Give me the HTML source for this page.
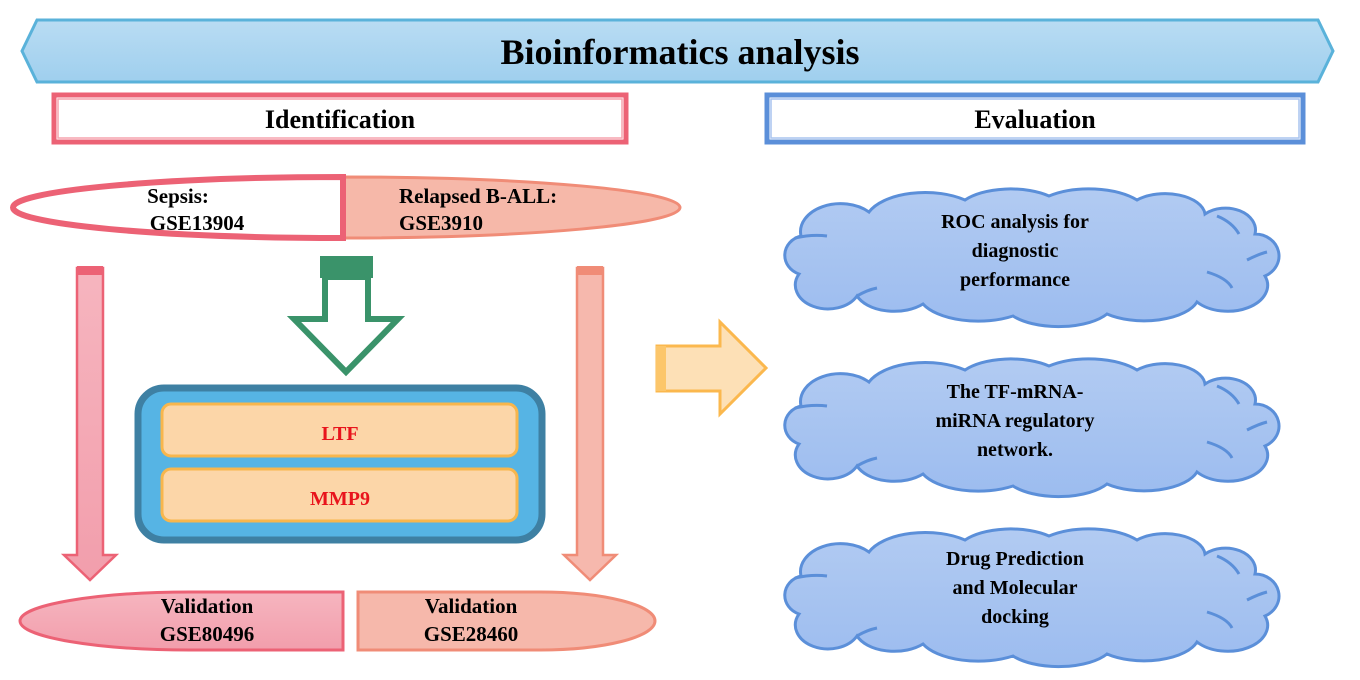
<!DOCTYPE html>
<html><head><meta charset="utf-8"><style>
html,body{margin:0;padding:0;background:#fff;width:1360px;height:680px;overflow:hidden}
svg{display:block}
text{font-family:"Liberation Serif",serif;font-weight:bold;fill:#000}
</style></head><body>
<svg width="1360" height="680" viewBox="0 0 1360 680" xmlns="http://www.w3.org/2000/svg">
<defs>
<linearGradient id="ban" x1="0" y1="0" x2="0" y2="1"><stop offset="0" stop-color="#b9dcf3"/><stop offset="1" stop-color="#9fcfee"/></linearGradient>
<linearGradient id="cl" x1="0" y1="0" x2="0" y2="1"><stop offset="0" stop-color="#b2cbf2"/><stop offset="1" stop-color="#9cbcef"/></linearGradient>
<linearGradient id="pk" x1="0" y1="0" x2="0" y2="1"><stop offset="0" stop-color="#f6b5bf"/><stop offset="1" stop-color="#f29eac"/></linearGradient>
<g id="cloud">
<path d="M12,82 A22,20 0 0 1 14,44 A40,28 0 0 1 82,20 A60,30 0 0 1 178,8 A55,25 0 0 1 262,4 A60,28 0 0 1 350,8 A40,22 0 0 1 418,22 A30,22 0 0 1 468,42 A24,22 0 0 1 478,84 A40,26 0 0 1 410,110 A55,26 0 0 1 320,122 A55,24 0 0 1 226,124 A60,28 0 0 1 136,112 A40,24 0 0 1 70,104 A30,22 0 0 1 12,82 Z" fill="url(#cl)" stroke="#5b8fd9" stroke-width="3"/>
<path d="M8,46 Q25,42 40,44 M430,24 Q445,30 452,42 M460,68 Q472,62 480,60 M420,80 Q440,86 445,96 M70,104 Q80,98 90,96" fill="none" stroke="#5b8fd9" stroke-width="3"/>
</g>
</defs>

<polygon points="22,51 37,20 1318,20 1333,51 1318,82 37,82" fill="url(#ban)" stroke="#5ab2da" stroke-width="3"/>
<text x="680" y="64" font-size="36" text-anchor="middle">Bioinformatics analysis</text>

<rect x="54" y="95" width="572" height="47" fill="#fff" stroke="#ec6275" stroke-width="5"/>
<rect x="58" y="99" width="564" height="39" fill="none" stroke="#f6a3ae" stroke-width="1.5"/>
<text x="340" y="128" font-size="26" text-anchor="middle">Identification</text>
<rect x="767" y="95" width="536" height="47" fill="#fff" stroke="#5b8fd9" stroke-width="5"/>
<rect x="771" y="99" width="528" height="39" fill="none" stroke="#a9c4ef" stroke-width="1.5"/>
<text x="1035" y="128" font-size="26" text-anchor="middle">Evaluation</text>

<path d="M343,177 A337,30.5 0 0 1 343,238 Z" fill="#f6b8a9" stroke="#f08c77" stroke-width="3"/>
<path d="M343,177 A330,30.5 0 0 0 343,238 Z" fill="#fff" stroke="#ec6275" stroke-width="6"/>
<text x="178" y="203" font-size="21" text-anchor="middle">Sepsis:</text>
<text x="197" y="230" font-size="21" text-anchor="middle">GSE13904</text>
<text x="399" y="203" font-size="21">Relapsed B-ALL:</text>
<text x="399" y="230" font-size="21">GSE3910</text>

<polygon points="77,268 103,268 103,555 116,555 90,580 64,555 77,555" fill="url(#pk)" stroke="#ec6275" stroke-width="2.5"/>
<rect x="77" y="266" width="26" height="9" fill="#ec6275"/>
<polygon points="577,268 603,268 603,555 616,555 590,580 564,555 577,555" fill="#f6b8ad" stroke="#f08c77" stroke-width="2.5"/>
<rect x="577" y="266" width="26" height="9" fill="#f08c77"/>

<rect x="320" y="256" width="53" height="22" fill="#3a936a"/>
<polygon points="325,277 368,277 368,319 398,319 346,372 294,319 325,319" fill="#fff" stroke="#3a936a" stroke-width="6"/>

<rect x="138" y="388" width="404" height="152" rx="26" fill="#56b4e4" stroke="#3e80a3" stroke-width="7"/>
<rect x="162" y="404" width="355" height="52" rx="9" fill="#fcd6a8" stroke="#f8b64c" stroke-width="3"/>
<rect x="162" y="469" width="355" height="52" rx="9" fill="#fcd6a8" stroke="#f8b64c" stroke-width="3"/>
<text x="340" y="440" font-size="20" text-anchor="middle" style="fill:#e8141c">LTF</text>
<text x="340" y="505" font-size="20" text-anchor="middle" style="fill:#e8141c">MMP9</text>

<path d="M343,592 L343,650 L190,650 A170,29 0 0 1 190,592 Z" fill="url(#pk)" stroke="#ec6275" stroke-width="3"/>
<path d="M358,592 L540,592 A115,29 0 0 1 540,650 L358,650 Z" fill="#f6b8ab" stroke="#f08c77" stroke-width="3"/>
<text x="207" y="613" font-size="21" text-anchor="middle">Validation</text>
<text x="207" y="641" font-size="21" text-anchor="middle">GSE80496</text>
<text x="471" y="613" font-size="21" text-anchor="middle">Validation</text>
<text x="471" y="641" font-size="21" text-anchor="middle">GSE28460</text>

<polygon points="657,346 720,346 720,322 766,368 720,414 720,391 657,391" fill="#fde0b6" stroke="#fbb84e" stroke-width="3"/>
<rect x="656" y="346" width="10" height="45" fill="#fcc66a"/>

<use href="#cloud" transform="translate(787,192)"/>
<use href="#cloud" transform="translate(787,362)"/>
<use href="#cloud" transform="translate(787,532)"/>
<text x="1015" y="228" font-size="20" text-anchor="middle">ROC analysis for</text>
<text x="1015" y="257" font-size="20" text-anchor="middle">diagnostic</text>
<text x="1015" y="286" font-size="20" text-anchor="middle">performance</text>
<text x="1015" y="398" font-size="20" text-anchor="middle">The TF-mRNA-</text>
<text x="1015" y="427" font-size="20" text-anchor="middle">miRNA regulatory</text>
<text x="1015" y="456" font-size="20" text-anchor="middle">network.</text>
<text x="1015" y="565" font-size="20" text-anchor="middle">Drug Prediction</text>
<text x="1015" y="594" font-size="20" text-anchor="middle">and Molecular</text>
<text x="1015" y="623" font-size="20" text-anchor="middle">docking</text>
</svg>
</body></html>
